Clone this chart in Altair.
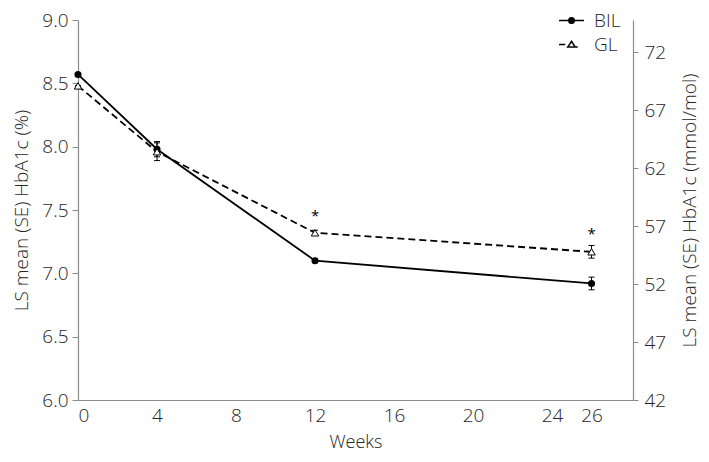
import altair as alt
import pandas as pd

# ---- data ----
weeks = [0, 4, 12, 26]
bil_mean = [8.57, 7.98, 7.10, 6.92]
bil_se = [0.0, 0.06, 0.015, 0.05]
gl_mean = [8.48, 7.96, 7.32, 7.17]
gl_se = [0.0, 0.07, 0.02, 0.05]
star_weeks = [12, 26]
star_pos = [7.45, 7.31]

x_ticks = [0, 4, 8, 12, 16, 20, 24, 26]
pct_ticks = [6.0, 6.5, 7.0, 7.5, 8.0, 8.5, 9.0]
mmol_ticks = [42, 47, 52, 57, 62, 67, 72]
x_domain = [0, 28.1]
pct_domain = [6.0, 9.0]
mmol_domain = [42.0, 74.78]  # same span as 6.0-9.0 %
series = ["BIL", "GL"]

FONT = "Open Sans"
TXT = "#262626"
AX = "#8c8c8c"
W, H = 555, 380

bil = pd.DataFrame({"week": weeks, "mean": bil_mean, "se": bil_se})
gl = pd.DataFrame({"week": weeks, "mean": gl_mean, "se": gl_se})
for d in (bil, gl):
    d["lo"] = d["mean"] - d["se"]
    d["hi"] = d["mean"] + d["se"]
stars = pd.DataFrame({"week": star_weeks, "pos": star_pos})
mmol_df = pd.DataFrame({"mmol": mmol_ticks})
leg_df = pd.DataFrame({"series": series})

xenc = alt.X(
    "week:Q",
    scale=alt.Scale(domain=x_domain, nice=False, zero=False),
    axis=alt.Axis(values=x_ticks, ticks=False, grid=False, title="Weeks",
                  labelPadding=6, format="d", titleFontSize=18,
                  titleX=W / 2, titleY=42, titleBaseline="middle", titleAlign="center"),
)
yaxis = alt.Axis(values=pct_ticks, format=".1f", grid=False, tickSize=6,
                 labelPadding=4, title="LS mean (SE) HbA1c (%)",
                 titleAngle=-90, titleX=-57, titleY=H / 2,
                 titleBaseline="middle", titleAlign="center")
yscale = alt.Scale(domain=pct_domain, nice=False, zero=False)


def Y(field):
    return alt.Y(f"{field}:Q", scale=yscale, axis=yaxis)


def line(df, dash):
    return alt.Chart(df).mark_line(color="black", strokeWidth=1.8, strokeDash=dash).encode(
        x=xenc, y=Y("mean"))


def bars(df):
    rule = alt.Chart(df).mark_rule(color="black", strokeWidth=1).encode(
        x=xenc, y=Y("lo"), y2="hi:Q")
    cap_lo = alt.Chart(df).mark_point(shape="M-1,0H1", size=36, color="black",
                                      strokeWidth=1, opacity=1).encode(x=xenc, y=Y("lo"))
    cap_hi = alt.Chart(df).mark_point(shape="M-1,0H1", size=36, color="black",
                                      strokeWidth=1, opacity=1).encode(x=xenc, y=Y("hi"))
    return [rule, cap_lo, cap_hi]


bil_pts = alt.Chart(bil).mark_point(shape="circle", filled=True, size=50, color="black",
                                    opacity=1).encode(x=xenc, y=Y("mean"))
gl_pts = alt.Chart(gl).mark_point(shape="triangle-up", size=55, fill="white", stroke="black",
                                  strokeWidth=1, opacity=1, fillOpacity=1).encode(x=xenc, y=Y("mean"))
star_txt = alt.Chart(stars).mark_text(text="*", fontSize=15, font=FONT, color="black",
                                      baseline="middle").encode(x=xenc, y=Y("pos"))

path_bil = ("M-1,0H1"
            "M-0.22,0A0.22,0.22,0,1,1,0.22,0A0.22,0.22,0,1,1,-0.22,0"
            "M-0.1,0A0.1,0.1,0,1,1,0.1,0A0.1,0.1,0,1,1,-0.1,0")
path_gl = "M-1,0H-0.5M0,-0.26L0.3,0.2L-0.3,0.2ZM0.3,0.2H0.5"
leg = alt.Legend(title=None, orient="none", legendX=480, legendY=-13,
                 symbolSize=625, labelFontSize=19, labelFont=FONT, labelFontWeight=300,
                 labelColor=TXT, labelOffset=9, rowPadding=0,
                 symbolStrokeWidth=1.5, symbolOpacity=1, padding=0)
legend_layer = alt.Chart(leg_df).transform_filter("false").mark_point(
    filled=False, strokeWidth=1.5, opacity=1).encode(
    shape=alt.Shape("series:N", scale=alt.Scale(domain=series, range=[path_bil, path_gl]),
                    legend=leg),
    stroke=alt.Stroke("series:N", scale=alt.Scale(domain=series, range=["black", "black"]),
                      legend=leg),
)

left = alt.layer(
    line(gl, [7, 4]), line(bil, []),
    *bars(bil), *bars(gl),
    bil_pts, gl_pts, star_txt, legend_layer,
)

right = alt.Chart(mmol_df).mark_point(opacity=0).encode(
    y=alt.Y("mmol:Q", scale=alt.Scale(domain=mmol_domain, nice=False, zero=False),
            axis=alt.Axis(orient="right", values=mmol_ticks, grid=False, tickSize=5,
                          labelPadding=6, title="LS mean (SE) HbA1c (mmol/mol)",
                          titleAngle=-90, titleX=56, titleY=H / 2,
                          titleBaseline="middle", titleAlign="center"))
)

chart = alt.layer(left, right).resolve_scale(y="independent").properties(
    width=W, height=H,
    autosize=alt.AutoSizeParams(type="none"),
    padding={"left": 70, "top": 12, "right": 68, "bottom": 52},
).configure_view(stroke=None).configure_axis(
    labelFont=FONT, titleFont=FONT, labelFontSize=19, titleFontSize=19,
    labelColor=TXT, titleColor=TXT, domainColor=AX, tickColor=AX,
    labelFontWeight=300, titleFontWeight=300, domainWidth=1.2,
)

chart.save("out.html", embed_options={"renderer": "svg", "actions": False})
